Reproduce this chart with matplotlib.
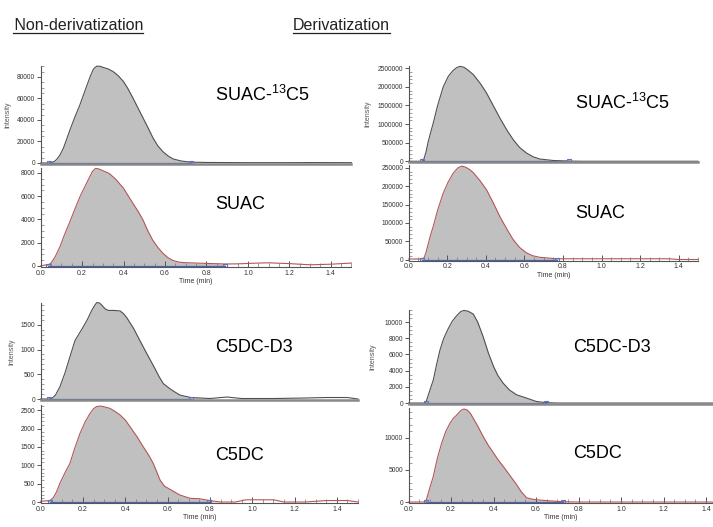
import matplotlib
matplotlib.use("Agg")
import matplotlib.pyplot as plt
from matplotlib.ticker import MultipleLocator
from matplotlib.lines import Line2D
import numpy as np

plt.rcParams['font.family'] = ['Liberation Sans', 'DejaVu Sans']
plt.rcParams['mathtext.fontset'] = 'custom'
plt.rcParams['mathtext.rm'] = 'Liberation Sans'

# -- data (time in min, intensity in counts) --
# non-derivatization
t_suac13_nd = [0.0, 0.02, 0.042, 0.055, 0.07, 0.08, 0.093, 0.11, 0.125, 0.141, 0.165, 0.189, 0.215,
               0.24, 0.255, 0.27, 0.285, 0.30, 0.325, 0.35, 0.375, 0.40, 0.42, 0.445, 0.47, 0.494,
               0.52, 0.542, 0.565, 0.59, 0.615, 0.64, 0.68, 0.723, 0.8, 0.9, 1.0, 1.2, 1.3, 1.5]
i_suac13_nd = [0, 0, 0, 500, 2000, 4000, 7400, 14000, 22000, 30700, 42800, 54000, 67900,
               81000, 87500, 90000, 90000, 89000, 87500, 85000, 81000, 75600, 69500, 60500, 51000, 41900,
               32000, 23300, 16000, 10500, 6500, 3700, 1800, 800, 500, 400, 300, 300, 400, 300]
base_suac13_nd = [0.042, 0.723]

t_suac_nd = [0.0, 0.02, 0.037, 0.05, 0.07, 0.093, 0.115, 0.141, 0.165, 0.189, 0.215, 0.237, 0.25,
             0.265, 0.28, 0.30, 0.33, 0.36, 0.40, 0.42, 0.445, 0.47, 0.494, 0.515, 0.54, 0.565,
             0.59, 0.615, 0.64, 0.67, 0.70, 0.80, 0.89, 0.95, 1.05, 1.1, 1.2, 1.25, 1.3, 1.4, 1.5]
i_suac_nd = [0, 80, 100, 250, 800, 1660, 2700, 3810, 4900, 5940, 6900, 7680, 8150,
             8400, 8350, 8200, 7970, 7500, 6680, 6100, 5390, 4700, 3950, 3100, 2240, 1600,
             1090, 700, 460, 320, 280, 220, 170, 180, 250, 270, 200, 150, 100, 150, 250]
base_suac_nd = [0.037, 0.89]

t_c5dcd3_nd = [0.0, 0.041, 0.052, 0.07, 0.091, 0.115, 0.138, 0.162, 0.20, 0.22, 0.24, 0.255, 0.265,
               0.278, 0.288, 0.305, 0.32, 0.345, 0.375, 0.39, 0.406, 0.44, 0.469, 0.50, 0.532,
               0.56, 0.58, 0.61, 0.635, 0.658, 0.709, 0.8, 0.88, 0.95, 1.1, 1.25, 1.35, 1.45, 1.5]
i_c5dcd3_nd = [0, 0, 10, 80, 250, 530, 850, 1180, 1450, 1600, 1780, 1890, 1950,
               1940, 1900, 1820, 1790, 1790, 1780, 1730, 1650, 1420, 1180, 930, 680,
               450, 310, 210, 140, 80, 30, 10, 40, 10, 10, 20, 30, 30, 0]
base_c5dcd3_nd = [0.041, 0.709]

t_c5dc_nd = [0.0, 0.02, 0.044, 0.06, 0.075, 0.091, 0.115, 0.138, 0.16, 0.186, 0.21, 0.233, 0.25,
             0.265, 0.285, 0.30, 0.327, 0.35, 0.375, 0.40, 0.422, 0.455, 0.485, 0.51, 0.532,
             0.55, 0.564, 0.585, 0.61, 0.658, 0.706, 0.75, 0.797, 0.85, 0.92, 0.97, 1.1, 1.15,
             1.25, 1.35, 1.45, 1.5]
i_c5dc_nd = [20, 30, 40, 120, 280, 510, 800, 1050, 1450, 1870, 2180, 2410, 2540,
             2600, 2610, 2590, 2550, 2470, 2370, 2230, 2050, 1780, 1500, 1280, 1050,
             800, 600, 430, 350, 190, 100, 90, 40, 0, 0, 60, 60, 0,
             0, 40, 40, 0]
base_c5dc_nd = [0.044, 0.797]

# derivatization
t_suac13_d = [0.0, 0.04, 0.067, 0.076, 0.09, 0.10, 0.115, 0.127, 0.15, 0.179, 0.205, 0.23, 0.25,
              0.266, 0.285, 0.30, 0.335, 0.37, 0.404, 0.44, 0.473, 0.51, 0.542, 0.575, 0.611,
              0.645, 0.68, 0.75, 0.832, 0.9, 1.5]
i_suac13_d = [0, 0, 0, 20000, 250000, 500000, 800000, 1020000, 1500000, 2000000, 2280000, 2440000, 2520000,
              2550000, 2530000, 2480000, 2330000, 2100000, 1830000, 1480000, 1160000, 830000, 580000,
              370000, 220000, 120000, 60000, 20000, 5000, 0, 0]
base_suac13_d = [0.067, 0.832]

t_suac_d = [0.0, 0.067, 0.08, 0.09, 0.10, 0.115, 0.127, 0.15, 0.179, 0.205, 0.23, 0.255, 0.275,
            0.295, 0.315, 0.335, 0.37, 0.404, 0.44, 0.473, 0.51, 0.542, 0.575, 0.611, 0.645,
            0.68, 0.767, 0.9, 1.1, 1.35, 1.4, 1.5]
i_suac_d = [1500, 1500, 5000, 20000, 40000, 70000, 90000, 135000, 181000, 212000, 235000, 250000, 255000,
            252000, 246000, 237000, 215000, 190000, 153000, 117000, 82000, 54000, 33000, 18000, 10000,
            6000, 2000, 2000, 2000, 2000, 0, 0]
base_suac_d = [0.067, 0.767]

t_c5dcd3_d = [0.0, 0.08, 0.1, 0.116, 0.13, 0.147, 0.165, 0.186, 0.205, 0.226, 0.245, 0.26, 0.28,
              0.304, 0.325, 0.351, 0.375, 0.40, 0.42, 0.445, 0.475, 0.508, 0.555, 0.60, 0.645,
              0.7, 1.433]
i_c5dcd3_d = [0, 0, 1600, 2860, 4600, 6530, 8000, 9190, 10100, 10800, 11300, 11450, 11350,
              11000, 10000, 8170, 6200, 4490, 3400, 2450, 1600, 1020, 610, 200, 50,
              0, 0]
base_c5dcd3_d = [0.08, 0.645]

t_c5dc_d = [0.0, 0.08, 0.1, 0.116, 0.135, 0.155, 0.175, 0.194, 0.21, 0.226, 0.245, 0.26, 0.275,
            0.29, 0.304, 0.325, 0.351, 0.375, 0.40, 0.42, 0.445, 0.475, 0.508, 0.53, 0.555,
            0.585, 0.618, 0.68, 0.728, 0.8, 1.433]
i_c5dc_d = [0, 0, 2260, 4000, 6800, 9130, 11000, 12200, 13000, 13500, 14200, 14450, 14300,
            13800, 13000, 11800, 10150, 8800, 7590, 6600, 5540, 4200, 2720, 1600, 670,
            420, 300, 150, 50, 0, 0]
base_c5dc_d = [0.08, 0.728]

compound_labels = ['SUAC-$\\mathregular{^{13}}$C5', 'SUAC', 'C5DC-D3', 'C5DC']
group_titles = [' Non-derivatization', 'Derivatization']

W, H = 713, 527
fig = plt.figure(figsize=(W / 100, H / 100), dpi=100)

# panel layout in pixels: left, right, top, bottom, xmax, ylim, major, minor, label pos, ylabel x
panels = [
    (t_suac13_nd, i_suac13_nd, base_suac13_nd, compound_labels[0], True,
     (40.7, 351.5, 66, 164), 1.5, (-930, 90200), 20000, 5000, (215, 95), 11),
    (t_suac_nd, i_suac_nd, base_suac_nd, compound_labels[1], False,
     (40.7, 351.5, 168, 267), 1.5, (-90, 8430), 2000, 500, (215, 205), None),
    (t_suac13_d, i_suac13_d, base_suac13_d, compound_labels[0], True,
     (408.7, 698, 66, 162), 1.5, (-20000, 2560000), 500000, 100000, (575, 103), 371),
    (t_suac_d, i_suac_d, base_suac_d, compound_labels[1], False,
     (408.7, 698, 165, 260.5), 1.5, (-2700, 258000), 50000, 10000, (575, 213), None),
    (t_c5dcd3_nd, i_c5dcd3_nd, base_c5dcd3_nd, compound_labels[2], True,
     (40.7, 358, 303, 400), 1.5, (-20, 1940), 500, 100, (215, 348), 15),
    (t_c5dc_nd, i_c5dc_nd, base_c5dc_nd, compound_labels[3], False,
     (40.7, 358, 405, 503), 1.5, (-27, 2640), 500, 100, (215, 455), None),
    (t_c5dcd3_d, i_c5dcd3_d, base_c5dcd3_d, compound_labels[2], True,
     (408.7, 713, 310, 404), 1.433, (-120, 11500), 2000, 500, (573, 347), 376),
    (t_c5dc_d, i_c5dc_d, base_c5dc_d, compound_labels[3], False,
     (408.7, 713, 408, 503), 1.433, (-150, 14600), 5000, 1000, (573, 453), None),
]

for t, y, base, label, is_top, box, xmax, ylim, major, minor, lpos, ylab_x in panels:
    l, r, top, bot = box
    ax = fig.add_axes([l / W, 1 - bot / H, (r - l) / W, (bot - top) / H])
    t = np.array(t)
    y = np.array(y)
    inside = (t >= base[0]) & (t <= base[1])
    ax.fill_between(t, y, 0, where=inside, color='#c0c0c0', lw=0, interpolate=True)
    line_color = '#505050' if is_top else '#b5565a'
    ax.plot(t, y, color=line_color, lw=0.8, clip_on=False)
    ax.plot(base, [0, 0], color='#4a62b4', lw=0.9)
    ax.plot(base, [0, 0], 's', mfc='none', mec='#5a72c4', ms=3, mew=0.8)

    ax.set_xlim(0, xmax)
    ax.set_ylim(*ylim)
    ax.set_facecolor('none')
    ax.ticklabel_format(axis='y', style='plain', useOffset=False)
    for s in ['top', 'right']:
        ax.spines[s].set_visible(False)
    ax.spines['left'].set_color('#555555')
    ax.spines['left'].set_linewidth(0.8)
    ax.yaxis.set_major_locator(MultipleLocator(major))
    ax.yaxis.set_minor_locator(MultipleLocator(minor))
    ax.xaxis.set_major_locator(MultipleLocator(0.2))
    ax.xaxis.set_minor_locator(MultipleLocator(0.05))
    ax.tick_params(axis='y', which='major', direction='out', length=3, width=0.7,
                   colors='#555555', labelsize=4.8, labelcolor='#333333', pad=1)
    ax.tick_params(axis='y', which='minor', direction='in', length=2.5, width=0.5, colors='#777777')
    ax.tick_params(axis='x', which='major', direction='in', length=4, width=0.7,
                   colors='#555555', labelsize=5, labelcolor='#333333', pad=2)
    ax.tick_params(axis='x', which='minor', direction='in', length=3, width=0.5, colors='#777777')

    if is_top:
        ax.spines['bottom'].set_color('#888888')
        ax.spines['bottom'].set_linewidth(1.8)
        ax.tick_params(axis='x', which='both', length=0, labelbottom=False)
        ax.set_ylabel('Intensity', fontsize=5, color='#555555', labelpad=1)
        ax.yaxis.set_label_coords((ylab_x - l) / (r - l), 0.5)
    else:
        ax.spines['bottom'].set_color('#555555')
        ax.spines['bottom'].set_linewidth(0.8)
        ax.set_xlabel('Time (min)', fontsize=5, color='#333333', labelpad=1)
        ax.set_xticks(np.arange(0, 1.41, 0.2))

    fig.text(lpos[0] / W, 1 - lpos[1] / H, label, fontsize=13, va='center', ha='left', color='black')

# group headings, underlined
title_texts = []
for title, x in zip(group_titles, [10, 293]):
    txt = fig.text(x / W, 1 - 30 / H, title, fontsize=11.5, ha='left', va='baseline',
                   color='#222222')
    title_texts.append(txt)

fig.canvas.draw()
renderer = fig.canvas.get_renderer()
for txt in title_texts:
    bb = txt.get_window_extent(renderer)
    x0 = bb.x0
    if txt.get_text().startswith(' '):
        x0 = bb.x0 + 3
    fig.add_artist(Line2D([x0 / W, bb.x1 / W], [1 - 32.5 / H, 1 - 32.5 / H],
                          color='#222222', lw=0.9))

fig.savefig('out.png', dpi=100)
